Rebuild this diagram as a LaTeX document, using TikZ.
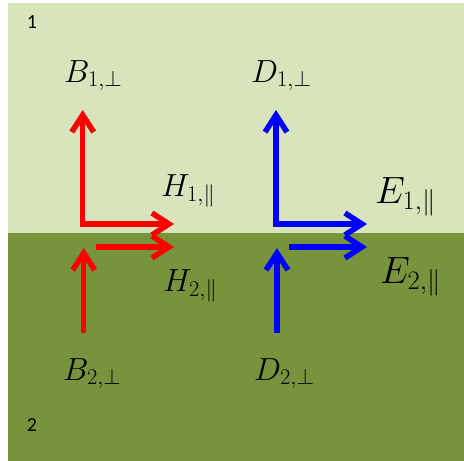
\RequirePackage{fix-cm}
\documentclass[tikz,border=0pt]{standalone}
\usepackage{fontspec}
\newfontfamily\regionfont{Carlito}
\usetikzlibrary{arrows.meta}

\definecolor{upperfill}{HTML}{D8E4BC}
\definecolor{lowerfill}{HTML}{77933C}
\definecolor{hred}{HTML}{FF0000}
\definecolor{eblue}{HTML}{0000FF}

\tikzset{
    field/.style={line width=5.5pt, -{Straight Barb[length=17pt, width=22pt]}},
    lbl/.style={anchor=base west, inner sep=0pt, font=\fontsize{32}{38}\selectfont},
    biglbl/.style={lbl, font=\fontsize{38}{44}\selectfont},
    region/.style={inner sep=0pt, font=\regionfont\fontsize{20}{24}\selectfont},
}

\begin{document}
\begin{tikzpicture}[x=1pt, y=-1pt]
                        % the two media
                        \fill[white] (0,0) rectangle (464,461);
                        \fill[upperfill] (8,3) rectangle (464,232.5);
                        \fill[lowerfill] (8,232.5) rectangle (464,461);

                        \node[region] (m1) at (32,22) {1};
                        \node[region] (m2) at (32,425) {2};

                        % end points of the field arrows
                        \foreach \n/\x in {b/82.7, d/276}{
                            \coordinate (\n up0) at (\x,226.75);
                            \coordinate (\n up1) at (\x,110);
                            \coordinate (\n lo0) at (\x+1,333);
                            \coordinate (\n lo1) at (\x+1,248);
                        }
                        \coordinate (h10) at (79.95,224);
                        \coordinate (h11) at (174,224);
                        \coordinate (h20) at (96,247);
                        \coordinate (h21) at (174,247);
                        \coordinate (e10) at (273.25,224);
                        \coordinate (e11) at (367,224);
                        \coordinate (e20) at (289,247);
                        \coordinate (e21) at (367,247);

                        % red: B and H
                        \foreach \u/\v in {%
                            bup0/bup1,
                            blo0/blo1,
                            h10/h11,
                            h20/h21%
                            }{
                            \draw[field, hred] (\u) -- (\v);
                        }

                        % blue: D and E
                        \foreach \u/\v in {%
                            dup0/dup1,
                            dlo0/dlo1,
                            e10/e11,
                            e20/e21%
                            }{
                            \draw[field, eblue] (\u) -- (\v);
                        }

                        \node[lbl] (b1) at (64,82) {$B_{1,\perp}$};
                        \node[lbl] (d1) at (251,82) {$D_{1,\perp}$};
                        \node[lbl] (h1) at (161,196) {$H_{1,\|}$};
                        \node[biglbl] (e1) at (375,203) {$E_{1,\|}$};
                        \node[lbl] (h2) at (163,291) {$H_{2,\|}$};
                        \node[biglbl] (e2) at (380,283) {$E_{2,\|}$};
                        \node[lbl] (b2) at (63,380) {$B_{2,\perp}$};
                        \node[lbl] (d2) at (254,380) {$D_{2,\perp}$};

                    \end{tikzpicture}
\end{document}
